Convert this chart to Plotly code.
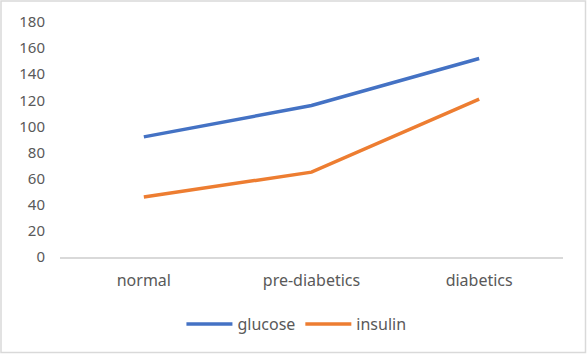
import plotly.graph_objects as go

categories = ["normal", "pre-diabetics", "diabetics"]
glucose = [92, 116, 152]
insulin = [46, 65, 121]
y_ticks = [0, 20, 40, 60, 80, 100, 120, 140, 160, 180]

W, H = 587, 354
ML, MR, MT, MB = 60, 24, 22, 97

fig = go.Figure()
fig.add_trace(go.Scatter(x=categories, y=glucose, mode="lines", name="glucose",
                         line=dict(color="#4472C4", width=3.5)))
fig.add_trace(go.Scatter(x=categories, y=insulin, mode="lines", name="insulin",
                         line=dict(color="#ED7D31", width=3.5)))

pw = W - ML - MR
ph = H - MT - MB
fig.add_shape(type="rect", xref="paper", yref="paper",
              x0=(-ML + 1) / pw, x1=(pw + MR - 1.5) / pw,
              y0=(-MB + 1.5) / ph, y1=(ph + MT - 1) / ph,
              line=dict(color="#d9d9d9", width=1.5), layer="below")

fig.update_layout(
    width=W, height=H,
    margin=dict(l=ML, r=MR, t=MT, b=MB, autoexpand=False),
    paper_bgcolor="white", plot_bgcolor="white",
    font=dict(family="Noto Sans, sans-serif", size=15, color="#595959"),
    xaxis=dict(type="category", range=[-0.5, 2.5], showgrid=False,
               showline=True, linecolor="#d9d9d9", linewidth=1.5,
               ticks="", ticklabelstandoff=8,
               tickfont=dict(size=16, color="#595959"), zeroline=False),
    yaxis=dict(range=[0, 180], tickvals=y_ticks, showgrid=False, showline=False,
               zeroline=False, ticks="", ticklabelstandoff=14,
               tickfont=dict(size=15, color="#595959")),
    legend=dict(orientation="h", x=0.505, xref="container", xanchor="center",
                y=(H - 324) / H, yref="container", yanchor="middle",
                font=dict(size=16, color="#595959"), itemwidth=46, tracegroupgap=0),
    showlegend=True,
)

fig.write_html("out.html")
